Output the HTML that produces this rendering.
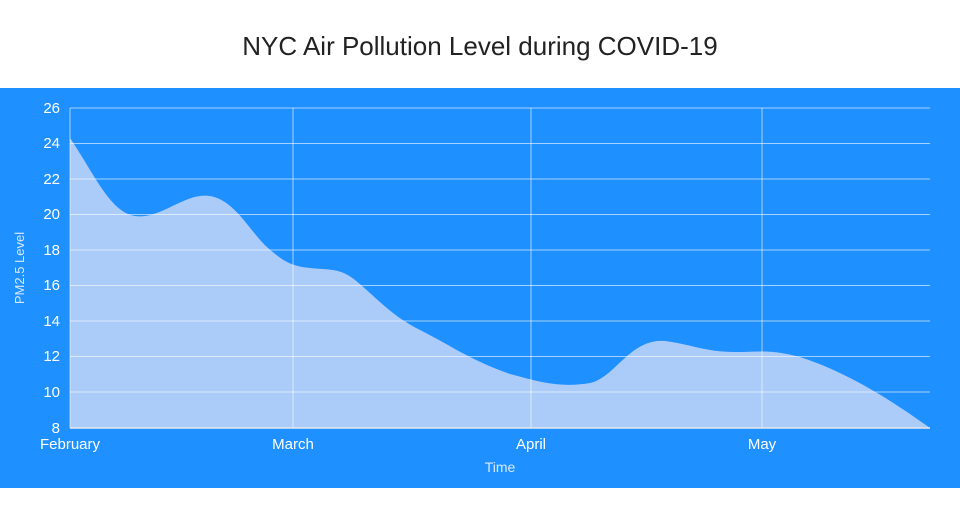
<!DOCTYPE html>
<html><head><style>
body{margin:0;width:960px;height:500px;background:#fff;font-family:"Liberation Sans",sans-serif;overflow:hidden}
</style></head><body>
<svg width="960" height="500" xmlns="http://www.w3.org/2000/svg" font-family="Liberation Sans, sans-serif">
<rect x="0" y="0" width="960" height="500" fill="#fff"/>
<text x="480" y="55" text-anchor="middle" font-size="26" fill="#222">NYC Air Pollution Level during COVID-19</text>
<rect x="0" y="88" width="960" height="400" fill="#1e90ff"/>
<path d="M70,138 C95,175 110,212 135,216 C160,220 185,192 210,196 C235,200 250,232 268,248 C280,258 288,266 310,268 C330,270 340,268 355,280 C375,296 390,315 420,330 C450,345 470,360 510,374 C540,382 560,388 590,383 C615,378 630,338 665,341 C690,344 705,352 735,352 C760,352 770,349 800,357 C840,370 880,392 930,428 L930,428 L70,428 Z" fill="#abcbf8"/>
<g stroke="#ffffff" stroke-opacity="0.6" stroke-width="1">
<line x1="70" y1="108" x2="930" y2="108"/>
<line x1="70" y1="143.5" x2="930" y2="143.5"/>
<line x1="70" y1="179" x2="930" y2="179"/>
<line x1="70" y1="214.5" x2="930" y2="214.5"/>
<line x1="70" y1="250" x2="930" y2="250"/>
<line x1="70" y1="285.5" x2="930" y2="285.5"/>
<line x1="70" y1="321" x2="930" y2="321"/>
<line x1="70" y1="356.5" x2="930" y2="356.5"/>
<line x1="70" y1="392" x2="930" y2="392"/>
<line x1="70" y1="108" x2="70" y2="428"/>
<line x1="293" y1="108" x2="293" y2="428"/>
<line x1="531" y1="108" x2="531" y2="428"/>
<line x1="762" y1="108" x2="762" y2="428"/>
</g>
<line x1="70" y1="428" x2="930" y2="428" stroke="#e8e8e8" stroke-width="1.5"/>
<g fill="#fff" font-size="15" text-anchor="end">
<text x="60" y="113">26</text><text x="60" y="148">24</text><text x="60" y="184">22</text><text x="60" y="219">20</text><text x="60" y="255">18</text><text x="60" y="290">16</text><text x="60" y="326">14</text><text x="60" y="361">12</text><text x="60" y="397">10</text><text x="60" y="433">8</text>
</g>
<g fill="#fff" font-size="15" text-anchor="middle">
<text x="70" y="449">February</text><text x="293" y="449">March</text><text x="531" y="449">April</text><text x="762" y="449">May</text>
</g>
<text x="500" y="472" text-anchor="middle" fill="#d8e8ff" font-size="14">Time</text>
<text transform="translate(24,268) rotate(-90)" text-anchor="middle" fill="#d8e8ff" font-size="13">PM2.5 Level</text>
</svg>
</body></html>
